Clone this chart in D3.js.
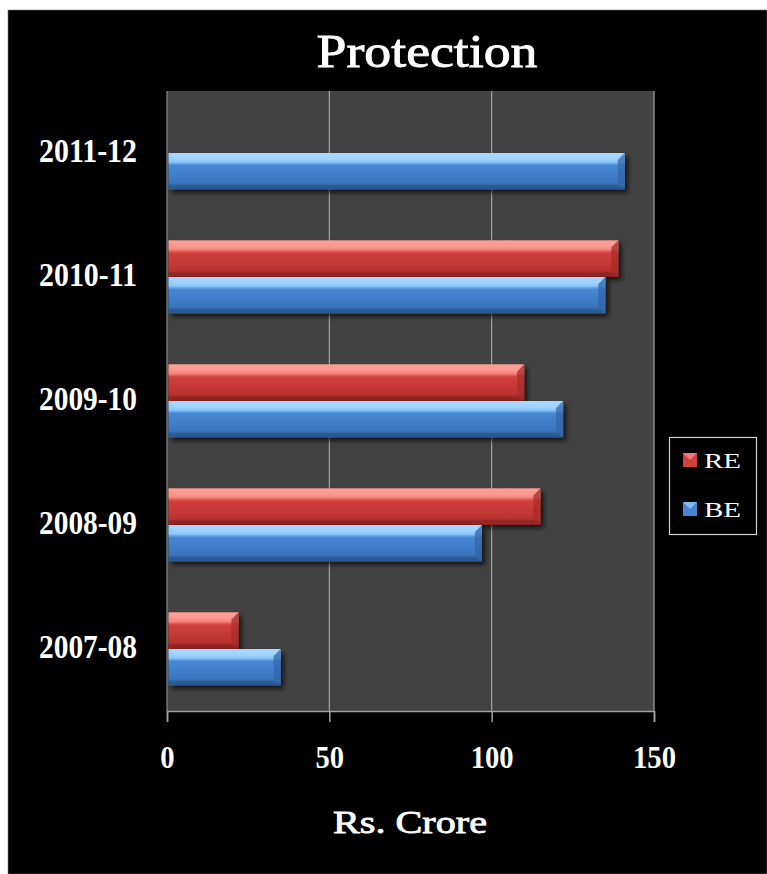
<!DOCTYPE html>
<html>
<head>
<meta charset="utf-8">
<script src="https://cdn.jsdelivr.net/npm/d3@7"></script>
<style>
  html, body { margin: 0; padding: 0; background: #ffffff; }
  svg { display: block; }
  text { font-family: "Liberation Serif", "DejaVu Serif", serif; fill: #ffffff; }
</style>
</head>
<body>
<svg id="chart" width="767" height="874"></svg>
<script>
// Protection budget, Rs. Crore (RE = revised estimate, BE = budget estimate)
const years = ["2011-12", "2010-11", "2009-10", "2008-09", "2007-08"];
const series = ["RE", "BE"];
const reValues = [null, 139, 110, 115, 22];
const beValues = [141, 135, 122, 97, 35];
const xTicks = [0, 50, 100, 150];

const svg = d3.select("#chart");
const W = 767, H = 874;
const plot = { left: 167, right: 654, top: 91, bottom: 711 };

// Black background panel
svg.append("rect").attr("x", 8).attr("y", 10).attr("width", W - 8).attr("height", H - 10)
  .attr("fill", "#000").attr("stroke", "#777").attr("stroke-width", 0.6);

const x = d3.scaleLinear().domain([0, 150]).range([plot.left, plot.right]);
const y = d3.scaleBand().domain(years).range([plot.top, plot.bottom])
  .paddingInner(0.41).paddingOuter(0.205);
const ySub = d3.scaleBand().domain(series).range([0, y.bandwidth()]);

const colors = {
  RE: { top: "#f68a84", mid: "#d2403c", low: "#bb3330", edge: "#8c2322", cap: "#a72c2a", light: "#ff9e96" },
  BE: { top: "#8ec8fb", mid: "#4687d4", low: "#3b76bf", edge: "#28548e", cap: "#3466a8", light: "#a7d8ff" }
};

const defs = svg.append("defs");
series.forEach(s => {
  const c = colors[s];
  const g = defs.append("linearGradient").attr("id", "grad-" + s)
    .attr("x1", 0).attr("y1", 0).attr("x2", 0).attr("y2", 1);
  g.append("stop").attr("offset", "0%").attr("stop-color", c.light);
  g.append("stop").attr("offset", "24%").attr("stop-color", c.top);
  g.append("stop").attr("offset", "34%").attr("stop-color", c.mid);
  g.append("stop").attr("offset", "80%").attr("stop-color", c.low);
  g.append("stop").attr("offset", "100%").attr("stop-color", c.edge);
});
const shadow = defs.append("filter").attr("id", "shadow")
  .attr("x", "-5%").attr("y", "-20%").attr("width", "115%").attr("height", "160%");
shadow.append("feGaussianBlur").attr("in", "SourceAlpha").attr("stdDeviation", 2.5).attr("result", "b");
shadow.append("feOffset").attr("in", "b").attr("dx", 3).attr("dy", 3).attr("result", "o");
shadow.append("feComponentTransfer").attr("in", "o").attr("result", "s")
  .append("feFuncA").attr("type", "linear").attr("slope", 0.7);
const merge = shadow.append("feMerge");
merge.append("feMergeNode").attr("in", "s");
merge.append("feMergeNode").attr("in", "SourceGraphic");

// Plot area
svg.append("rect").attr("x", plot.left).attr("y", plot.top)
  .attr("width", plot.right - plot.left).attr("height", plot.bottom - plot.top)
  .attr("fill", "#424242");

// Vertical gridlines
svg.append("g").selectAll("line").data(xTicks.slice(1)).join("line")
  .attr("x1", d => x(d)).attr("x2", d => x(d))
  .attr("y1", plot.top).attr("y2", plot.bottom)
  .attr("stroke", "#a6a6a6").attr("stroke-width", 1.2);

// Left edge of the plot
svg.append("line").attr("x1", plot.left).attr("x2", plot.left)
  .attr("y1", plot.top).attr("y2", plot.bottom)
  .attr("stroke", "#8a8a8a").attr("stroke-width", 1.2);

// Bars
const rows = [];
years.forEach((yr, i) => {
  rows.push({ year: yr, s: "RE", v: reValues[i] });
  rows.push({ year: yr, s: "BE", v: beValues[i] });
});
const bev = 7;
const barG = svg.append("g");
rows.filter(d => d.v != null).forEach(d => {
  const x0 = x(0) + 1.5, x1 = x(d.v);
  const y0 = y(d.year) + ySub(d.s), h = ySub.bandwidth(), y1 = y0 + h;
  const c = colors[d.s];
  const g = barG.append("g").attr("filter", "url(#shadow)");
  g.append("rect").attr("x", x0).attr("y", y0).attr("width", x1 - x0).attr("height", h)
    .attr("fill", `url(#grad-${d.s})`);
  // top bevel facet
  g.append("path").attr("d", `M${x0},${y0}L${x1},${y0}L${x1 - bev},${y0 + bev}L${x0 + bev},${y0 + bev}Z`)
    .attr("fill", c.light).attr("opacity", 0.6);
  // bottom bevel facet
  g.append("path").attr("d", `M${x0},${y1}L${x1},${y1}L${x1 - bev},${y1 - bev * 0.7}L${x0},${y1 - bev * 0.7}Z`)
    .attr("fill", c.edge).attr("opacity", 0.5);
  // right end facet
  g.append("path").attr("d", `M${x1},${y0}L${x1},${y1}L${x1 - bev},${y1 - bev * 0.7}L${x1 - bev},${y0 + bev}Z`)
    .attr("fill", c.cap).attr("opacity", 0.75);
});

// X axis
const xAxis = svg.append("g").attr("transform", `translate(0,${plot.bottom})`)
  .call(d3.axisBottom(x).tickValues(xTicks).tickSize(11).tickPadding(24).tickFormat(d3.format("d")));
xAxis.select(".domain").attr("stroke", "#a0a0a0").attr("stroke-width", 1.5);
xAxis.selectAll(".tick line").attr("stroke", "#a0a0a0").attr("stroke-width", 1.5);
// slightly condensed numerals
xAxis.selectAll(".tick text").attr("fill", "#fff")
  .style("font-family", '"Liberation Serif", serif').style("font-weight", "bold")
  .style("font-size", "31px")
  .attr("textLength", d => String(d).length * 14.3)
  .attr("lengthAdjust", "spacingAndGlyphs");

// Category labels
const yAxis = svg.append("g").attr("transform", `translate(${plot.left},0)`)
  .call(d3.axisLeft(y).tickSize(0).tickPadding(30));
yAxis.select(".domain").remove();
yAxis.selectAll(".tick text").attr("fill", "#fff").attr("dy", "0.26em")
  .style("font-family", '"Liberation Serif", serif').style("font-weight", "bold")
  .style("font-size", "33px")
  .attr("textLength", 98).attr("lengthAdjust", "spacingAndGlyphs");

// Title
svg.append("text").attr("x", 427).attr("y", 67).attr("text-anchor", "middle")
  .style("font-size", "46px")
  .attr("stroke", "#fff").attr("stroke-width", 0.9)
  .attr("textLength", 221).attr("lengthAdjust", "spacingAndGlyphs")
  .text("Protection");

// Axis title
svg.append("text").attr("x", 410).attr("y", 833).attr("text-anchor", "middle")
  .style("font-size", "31px")
  .attr("stroke", "#fff").attr("stroke-width", 0.8)
  .attr("textLength", 154).attr("lengthAdjust", "spacingAndGlyphs")
  .text("Rs. Crore");

// Legend
const leg = svg.append("g");
leg.append("rect").attr("x", 669.5).attr("y", 437.5).attr("width", 87).attr("height", 97)
  .attr("fill", "none").attr("stroke", "#d0d0d0").attr("stroke-width", 1.2);
series.forEach((s, i) => {
  const cy = 460 + i * 49;
  const c = colors[s];
  leg.append("rect").attr("x", 683).attr("y", cy - 7).attr("width", 14).attr("height", 14)
    .attr("fill", c.mid);
  leg.append("path").attr("d", `M683,${cy - 7}L697,${cy - 7}L690,${cy}Z`).attr("fill", c.top).attr("opacity", 0.8);
  leg.append("text").attr("x", 704).attr("y", cy + 8)
    .style("font-size", "22px")
    .attr("textLength", 37).attr("lengthAdjust", "spacingAndGlyphs")
    .text(s);
});
</script>
</body>
</html>
